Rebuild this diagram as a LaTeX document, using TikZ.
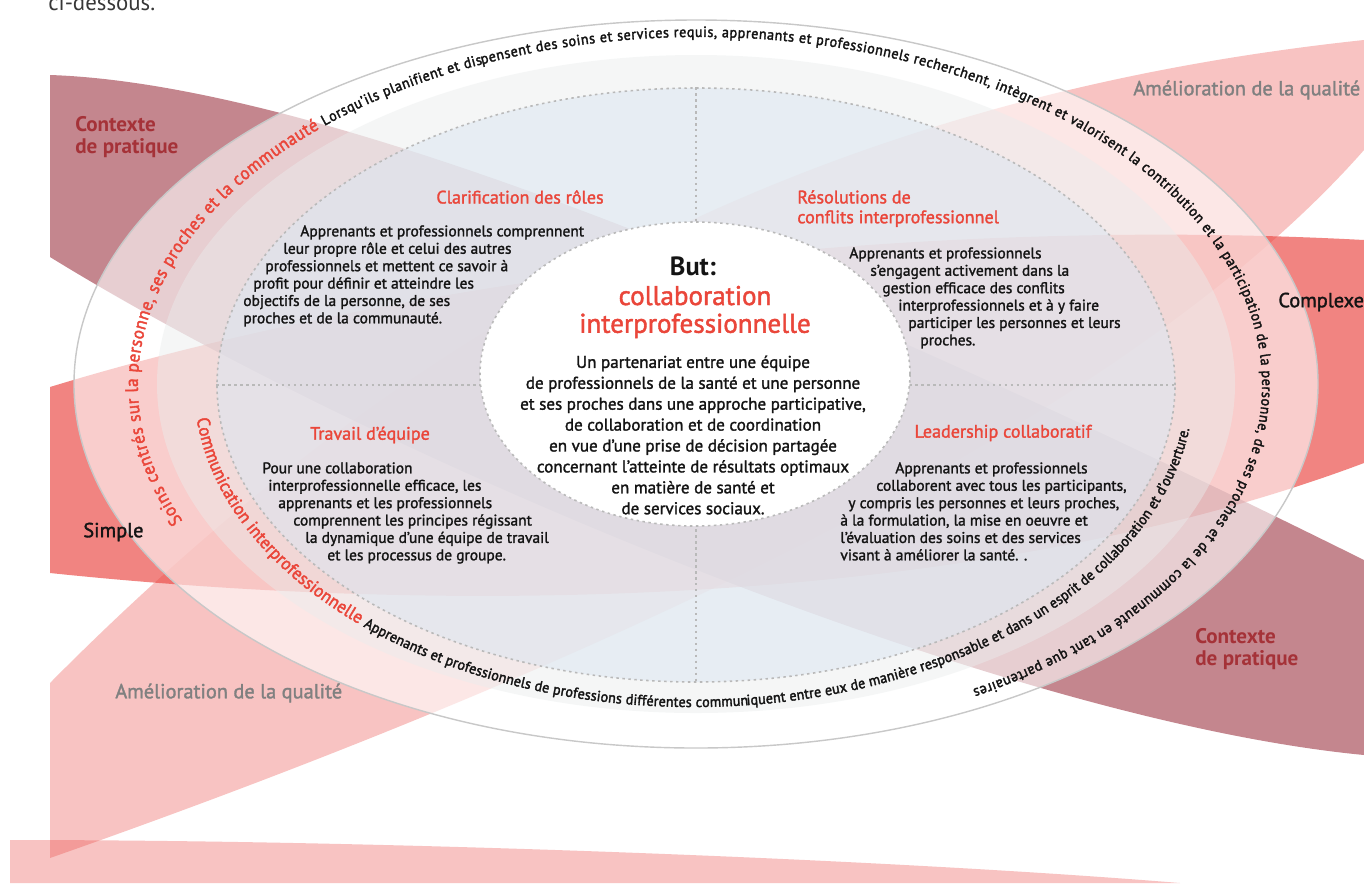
\documentclass[tikz,border=0pt]{standalone}
\usepackage{fontspec}
\setmainfont{PT Sans}
\newfontfamily\semi[FakeBold=1.6]{PT Sans}
\newfontfamily\ringfont[FakeBold=2.2, FakeStretch=0.95]{PT Sans}
\usetikzlibrary{shapes.geometric,decorations.text}

\definecolor{ctxshade}{RGB}{150,40,55}
\definecolor{redshade}{RGB}{235,75,70}
\definecolor{ctxtext}{RGB}{165,50,56}
\definecolor{titlered}{RGB}{234,70,58}
\definecolor{qualgray}{RGB}{128,128,128}
\definecolor{zoneblue}{RGB}{220,231,242}
\definecolor{bandgray}{RGB}{234,237,237}
\definecolor{ink}{RGB}{20,20,20}
\definecolor{rim}{RGB}{200,200,200}

% one unit of the picture
\newlength\px
\setlength\px{0.02cm}

% formats for the texts running round the rings
\newcommand\ringred{\fontsize{10.2}{11}\ringfont\color{titlered}}
\newcommand\ringblack{\fontsize{8.4}{9}\ringfont\color{ink}}

\tikzset{
    %Define style for the coloured swooshes
    swoosh/.style={
           draw=none,
           fill=#1},
    %Define style for the rings
    oval/.style 2 args={
           shape=ellipse,
           inner sep=0pt,
           minimum width=#1\px,
           minimum height=#2\px},
    dots/.style={
           draw=gray!55,
           line width=0.9pt,
           dash pattern=on 1.4pt off 2pt},
    % Define text styles
    sidelabel/.style={
           inner sep=0pt,
           font=\fontsize{11.6}{12.5}\semi},
    ctx/.style={
           sidelabel, align=left, anchor=north west,
           text=ctxtext,
           font=\fontsize{12}{12.6}\bfseries},
    qual/.style={
           sidelabel, anchor=west,
           text=qualgray},
    axislabel/.style={
           sidelabel, anchor=west,
           text=ink},
    quadtitle/.style={
           inner sep=0pt,
           text=titlered,
           font=\fontsize{10.3}{11.3}\semi},
    body/.style={
           inner sep=0pt,
           align=left, anchor=north west,
           text=ink,
           font=\fontsize{8.8}{9.9}\semi}
}

\begin{document}
\begin{tikzpicture}[x=0.02cm, y=0.02cm]
\useasboundingbox (0,-883) rectangle (1364,0);
\fill[white] (0,-883) rectangle (1364,0);

\node[anchor=base west, inner sep=0pt, text=ink!85, font=\fontsize{13}{14}\selectfont] (intro) at (48,-10) {ci-dessous.};

% swooshes behind the rings
\fill[swoosh=redshade, fill opacity=0.33]
    (50,-683) .. controls (400,-330) and (800,-100) .. (1364,-40)
    -- (1364,-150) .. controls (1100,-450) and (500,-700) .. (50,-858) -- cycle;
\fill[swoosh=redshade, fill opacity=0.33]
    (10,-840) .. controls (400,-840) and (900,-860) .. (1180,-883) -- (10,-883) -- cycle;
\fill[swoosh=redshade, fill opacity=0.68]
    (50,-387) .. controls (400,-280) and (900,-215) .. (1364,-240)
    -- (1364,-463) .. controls (1000,-600) and (500,-620) .. (50,-573) -- cycle;
\fill[swoosh=ctxshade, fill opacity=0.56]
    (50,-75) .. controls (350,-85) and (900,-330) .. (1364,-560)
    -- (1364,-755) .. controls (1000,-720) and (380,-460) .. (50,-257) -- cycle;

% rings
\coordinate (outerc) at (696,-384);
\draw[draw=rim, line width=0.8pt, fill=white, fill opacity=0.6] (outerc) ellipse [x radius=622, y radius=364];
\fill[bandgray, fill opacity=0.45] (outerc) ellipse [x radius=539, y radius=329];
\node[oval={958}{594}, dots, fill=zoneblue, fill opacity=0.55] (zone) at (696,-385) {};
\draw[dots] (zone.west) -- (zone.east);
\draw[dots] (zone.north) -- (zone.south);
\node[oval={430}{304}, dots, fill=white] (core) at (695,-374) {};

% texts along the rings
\coordinate (ring1c) at (700,-385);
\coordinate (ring2c) at (694,-385);
\path[decorate, decoration={text along path, text align=fit to path,
    text={|\ringred|Soins centrés sur la personne, ses proches et la communauté |\ringblack|Lorsqu’ils planifient et dispensent des soins et services requis, apprenants et professionnels recherchent, intègrent et valorisent la contribution et la participation de la personne, de ses proches et de la communauté en tant que partenaires.}}]
    ([shift={(203:562 and 348)}]ring1c) arc[start angle=203, end angle=-61, x radius=562, y radius=348];
\path[decorate, decoration={text along path, text align=fit to path,
    text={|\ringred|Communication interprofessionnelle |\ringblack|Apprenants et professionnels de professions différentes communiquent entre eux de manière responsable et dans un esprit de collaboration et d’ouverture.}}]
    ([shift={(186:500 and 322)}]ring2c) arc[start angle=186, end angle=352, x radius=500, y radius=322];

% labels round the rings
\node[ctx] (ctxtop) at (75,-116) {Contexte\\de pratique};
\node[ctx] (ctxbottom) at (1195,-628) {Contexte\\de pratique};
\node[qual] (qualtop) at (1133,-90) {Amélioration de la qualité};
\node[qual] (qualbottom) at (115,-693) {Amélioration de la qualité};
\node[axislabel] (complexe) at (1278,-302) {Complexe};
\node[axislabel] (simple) at (83,-532) {Simple};

% quadrants
\node[quadtitle] (roles) at (520,-197) {Clarification des rôles};
\node[body] (rolestext) at (243,-225) {%
\hspace*{57\px}Apprenants et professionnels comprennent\\
\hspace*{40\px}leur propre rôle et celui des autres\\
\hspace*{22\px}professionnels et mettent ce savoir à\\
\hspace*{10\px}profit pour définir et atteindre les\\
objectifs de la personne, de ses\\
proches et de la communauté.};

\node[quadtitle, align=left, anchor=north west] (conflicts) at (797,-190) {Résolutions de\\conflits interprofessionnel};
\node[body] (conflictstext) at (849,-247) {%
Apprenants et professionnels\\
\hspace*{21\px}s’engagent activement dans la\\
\hspace*{33\px}gestion efficace des conflits\\
\hspace*{49\px}interprofessionnels et à y faire\\
\hspace*{59\px}participer les personnes et leurs\\
\hspace*{71\px}proches.};

\node[quadtitle] (team) at (370,-435) {Travail d’équipe};
\node[body] (teamtext) at (262,-462) {%
Pour une collaboration\\
\hspace*{6\px}interprofessionnelle efficace, les\\
\hspace*{16\px}apprenants et les professionnels\\
\hspace*{31\px}comprennent les principes régissant\\
\hspace*{43\px}la dynamique d’une équipe de travail\\
\hspace*{65\px}et les processus de groupe.};

\node[quadtitle] (leader) at (1003,-433) {Leadership collaboratif};
\node[body] (leadertext) at (840,-462) {%
\hspace*{55\px}Apprenants et professionnels\\
\hspace*{36\px}collaborent avec tous les participants,\\
\hspace*{8\px}y compris les personnes et leurs proches,\\
à la formulation, la mise en oeuvre et\\
l’évaluation des soins et des services\\
visant à améliorer la santé. .};

% goal in the middle
\node[inner sep=0pt, text=ink, font=\fontsize{15}{16}\bfseries] (goal) at (693,-266) {But:};
\node[inner sep=0pt, text=titlered, align=center, font=\fontsize{15.4}{15.8}\semi] (goalname) at (695,-312) {collaboration\\interprofessionnelle};
\node[inner sep=0pt, text=ink, align=center, font=\fontsize{9.7}{11.9}\semi] (goaltext) at (693,-435) {%
Un partenariat entre une équipe\\
de professionnels de la santé et une personne\\
et ses proches dans une approche participative,\\
de collaboration et de coordination\\
en vue d’une prise de décision partagée\\
concernant l’atteinte de résultats optimaux\\
en matière de santé et\\
de services sociaux.};
\end{tikzpicture}
\end{document}
